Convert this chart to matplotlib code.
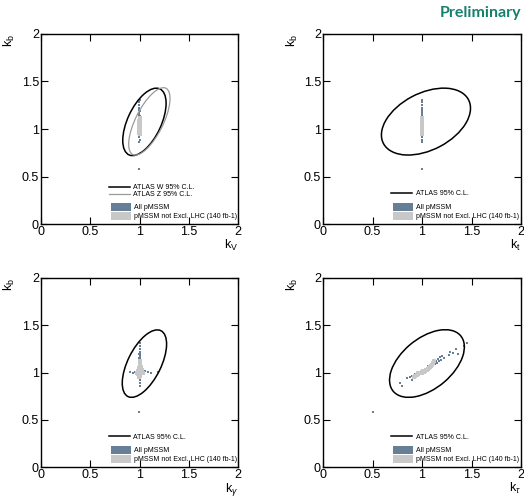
"""Coupling modifier plane (k_b vs k_V, k_t, k_gamma, k_tau) for pMSSM scan points
with the ATLAS 95% C.L. contours overlaid."""

import matplotlib
matplotlib.use("Agg")

import matplotlib.pyplot as plt
import numpy as np
from matplotlib.lines import Line2D
from matplotlib.patches import Ellipse, Patch

plt.rcParams["font.family"] = ["Liberation Sans", "DejaVu Sans"]
plt.rcParams["mathtext.fontset"] = "custom"
plt.rcParams["mathtext.rm"] = "Liberation Sans"
plt.rcParams["mathtext.it"] = "Liberation Sans:italic"

# -- pMSSM scan points: all models ------------------------------------------
all_kb = [1.31, 1.28, 1.25, 1.22, 1.21, 1.20, 1.19, 1.17, 1.16, 1.15, 1.14, 1.13,
          1.12, 1.12, 1.11, 1.10, 1.10, 1.09, 1.08, 1.08, 1.07, 1.06, 1.05, 1.04,
          1.03, 1.01, 1.00, 1.01, 1.00, 1.02, 1.01, 1.00, 1.01, 0.99, 1.02, 0.98,
          0.97, 0.96, 0.95, 0.94, 0.92, 0.885, 0.86, 0.58]
all_kV = [1.000, 0.998, 0.999, 0.999, 0.998, 0.999, 1.000, 0.999, 0.998, 0.999, 1.000, 0.999,
          0.998, 0.999, 1.000, 0.999, 0.998, 0.999, 1.000, 0.999, 0.998, 0.999, 1.000, 0.999,
          0.998, 0.999, 0.999, 1.000, 0.998, 0.999, 0.999, 1.000, 0.999, 0.998, 0.999, 0.999,
          1.000, 0.999, 0.998, 0.999, 0.999, 1.000, 0.999, 0.999]
all_kt = [1.000, 0.999, 1.001, 1.000, 0.998, 1.001, 1.000, 0.999, 1.001, 1.000, 0.999, 1.002,
          1.000, 0.999, 1.001, 1.000, 0.998, 1.001, 1.000, 0.999, 1.001, 1.000, 0.999, 1.001,
          1.000, 1.000, 0.999, 1.001, 1.000, 1.000, 0.999, 1.001, 1.000, 1.000, 1.001, 1.000,
          0.999, 1.001, 1.000, 1.000, 0.999, 1.000, 1.001, 1.000]
all_kgam = [1.005, 1.000, 1.003, 1.002, 1.004, 0.998, 1.001, 1.003, 1.000, 0.999, 1.002, 1.004,
            1.001, 0.997, 1.003, 1.000, 1.005, 1.002, 0.999, 1.004, 1.001, 1.003, 0.998, 1.002,
            1.010, 0.90, 0.93, 0.95, 0.97, 1.06, 1.09, 1.12, 1.19, 0.96, 1.04, 1.003,
            0.998, 1.002, 1.001, 0.999, 1.004, 1.002, 1.000, 0.995]
all_ktau = [1.45, 1.42, 1.34, 1.28, 1.31, 1.36, 1.27, 1.20, 1.18, 1.22, 1.16, 1.19,
            1.14, 1.17, 1.12, 1.15, 1.10, 1.13, 1.08, 1.11, 1.06, 1.10, 1.07, 1.03,
            1.05, 1.00, 0.99, 1.01, 1.00, 1.02, 1.01, 0.99, 1.00, 0.97, 1.03, 0.93,
            0.92, 0.90, 0.88, 0.85, 0.90, 0.78, 0.80, 0.51]

# -- pMSSM points not excluded by LHC (140 fb-1) ----------------------------
ok_kb = [0.95, 0.96, 0.97, 0.98, 0.99, 1.00, 1.00, 1.01, 1.01, 1.02, 1.02,
         1.03, 1.03, 1.04, 1.05, 1.06, 1.07, 1.08, 1.10, 1.12, 0.99, 1.00, 1.02]
ok_kV = [1.000, 0.999, 1.001, 0.999, 1.000, 0.999, 1.001, 1.000, 0.999, 1.001, 1.000,
         0.999, 1.001, 1.000, 0.999, 1.001, 1.000, 0.999, 1.000, 1.000, 1.001, 0.999, 1.000]
ok_kt = [0.999, 1.000, 1.001, 1.000, 0.999, 1.000, 1.001, 1.000, 0.999, 1.000, 1.001,
         1.000, 0.999, 1.000, 1.001, 1.000, 0.999, 1.000, 1.001, 1.000, 1.001, 0.999, 1.001]
ok_kgam = [0.99, 1.01, 1.00, 0.98, 1.02, 1.00, 1.03, 0.99, 1.01, 1.02, 0.98,
           1.00, 1.03, 1.01, 0.99, 1.02, 1.00, 1.01, 1.00, 1.00, 0.975, 1.035, 0.985]
ok_ktau = [0.92, 0.93, 0.95, 0.96, 0.97, 0.99, 1.00, 1.00, 1.02, 1.03, 1.02,
           1.05, 1.04, 1.06, 1.07, 1.08, 1.09, 1.10, 1.11, 1.12, 0.96, 0.98, 1.01]

# -- ATLAS 95% C.L. contours: centre, half-extent in x / y, correlation -----
# order: W (k_V), Z (k_V), k_t, k_gamma, k_tau
cl_cx = [1.05, 1.10, 1.04, 1.05, 1.05]
cl_cy = [1.075, 1.08, 1.078, 1.094, 1.095]
cl_sx = [0.22, 0.21, 0.45, 0.225, 0.378]
cl_sy = [0.355, 0.355, 0.352, 0.357, 0.358]
cl_rho = [0.55, 0.68, 0.40, 0.58, 0.49]

COL_ALL = "#667f97"
COL_OK = "#c8c8c8"


def cl_ellipse(i, **kw):
    """Build the 95% C.L. ellipse from its extents and correlation."""
    sx, sy, r = cl_sx[i], cl_sy[i], cl_rho[i]
    cov = np.array([[sx * sx, r * sx * sy], [r * sx * sy, sy * sy]])
    vals, vecs = np.linalg.eigh(cov)
    angle = np.degrees(np.arctan2(vecs[1, 1], vecs[0, 1]))
    return Ellipse((cl_cx[i], cl_cy[i]), 2 * np.sqrt(vals[1]), 2 * np.sqrt(vals[0]),
                   angle=angle, fill=False, **kw)


fig = plt.figure(figsize=(5.24, 4.98), dpi=100)

panels = [
    # (rect, x all, x ok, xlabel, contours)
    ([41 / 524, 274 / 498, 197 / 524, 190 / 498], all_kV, ok_kV, r"k$_{\mathrm{V}}$", [0, 1]),
    ([323 / 524, 274 / 498, 198 / 524, 190 / 498], all_kt, ok_kt, r"k$_{\mathrm{t}}$", [2]),
    ([41 / 524, 31 / 498, 197 / 524, 189 / 498], all_kgam, ok_kgam, r"k$_{\gamma}$", [3]),
    ([323 / 524, 31 / 498, 198 / 524, 189 / 498], all_ktau, ok_ktau, r"k$_{\tau}$", [4]),
]

for rect, xa, xo, xlab, contours in panels:
    ax = fig.add_axes(rect)
    ax.scatter(xa, all_kb, s=4, marker="s", color=COL_ALL, linewidths=0, zorder=2)
    ax.scatter(xo, ok_kb, s=5.5, marker="s", color=COL_OK, linewidths=0, zorder=3)

    if len(contours) == 2:
        ax.add_patch(cl_ellipse(0, edgecolor="black", linewidth=1.1, zorder=4))
        ax.add_patch(cl_ellipse(1, edgecolor="#9a9a9a", linewidth=0.9, zorder=4))
        handles = [Line2D([], [], color="black", lw=1.1, label="ATLAS W 95% C.L."),
                   Line2D([], [], color="#9a9a9a", lw=0.9, label="ATLAS Z 95% C.L.")]
        line_y = 0.135
    else:
        ax.add_patch(cl_ellipse(contours[0], edgecolor="black", linewidth=1.1, zorder=4))
        handles = [Line2D([], [], color="black", lw=1.1, label="ATLAS 95% C.L.")]
        line_y = 0.14

    leg1 = ax.legend(handles=handles, loc="lower left", bbox_to_anchor=(0.345, line_y),
                     frameon=False, fontsize=5, handlelength=3.0, handletextpad=0.5,
                     labelspacing=0.05, borderpad=0, borderaxespad=0)
    ax.add_artist(leg1)
    boxes = [Patch(facecolor=COL_ALL, edgecolor="none", label="All pMSSM"),
             Patch(facecolor=COL_OK, edgecolor="none", label="pMSSM not Excl. LHC (140 fb-1)")]
    ax.legend(handles=boxes, loc="lower left", bbox_to_anchor=(0.355, 0.02),
              frameon=False, fontsize=5, handlelength=2.9, handleheight=1.3,
              handletextpad=0.4, labelspacing=0.1, borderpad=0, borderaxespad=0)

    ax.set_xlim(0, 2)
    ax.set_ylim(0, 2)
    ax.set_xticks([0, 0.5, 1, 1.5, 2])
    ax.set_yticks([0, 0.5, 1, 1.5, 2])
    ax.set_xticklabels(["0", "0.5", "1", "1.5", "2"])
    ax.set_yticklabels(["0", "0.5", "1", "1.5", "2"])
    ax.tick_params(direction="in", length=5, width=0.8, top=True, right=True,
                   labelsize=9, pad=1.5)
    for sp in ax.spines.values():
        sp.set_linewidth(1.0)
    ax.set_xlabel(xlab, loc="right", fontsize=9, labelpad=0)
    ax.set_ylabel(r"k$_{\mathrm{b}}$", loc="top", fontsize=9, labelpad=3)

fig.text(0.995, 0.988, "Preliminary", ha="right", va="top", fontsize=11.5,
         fontweight="bold", color="#16806f", family=["Lato", "DejaVu Sans"])

fig.savefig("out.png", dpi=100)
